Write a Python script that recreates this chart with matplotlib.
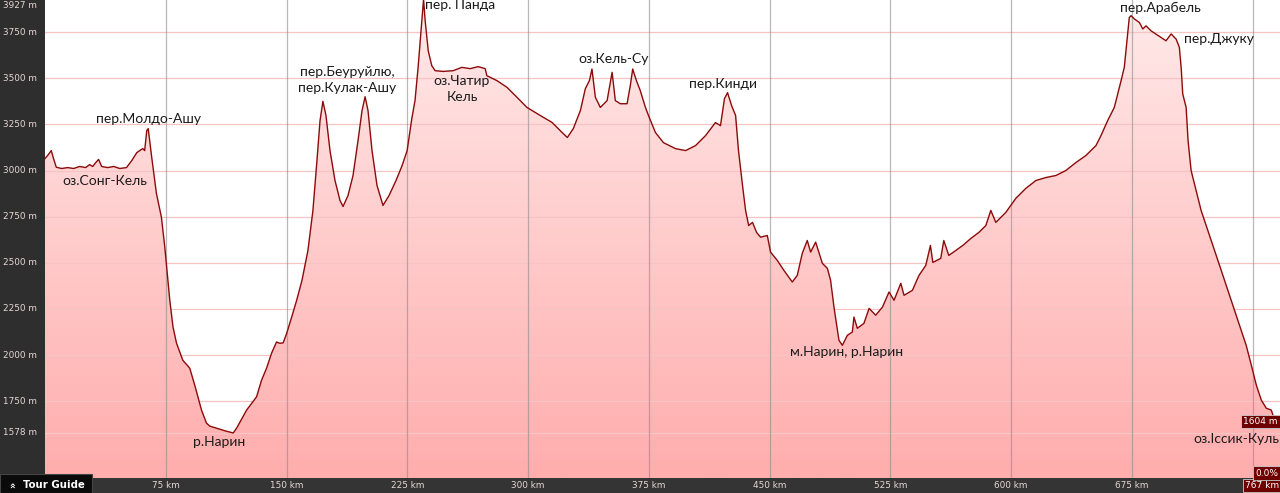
"""
Elevation profile: Song-Kol -> Issyk-Kul route.
"""

import numpy as np
import matplotlib

matplotlib.use("Agg")

import matplotlib.pyplot as plt
from matplotlib.colors import LinearSegmentedColormap
from matplotlib.patches import Rectangle, Polygon
from matplotlib.transforms import blended_transform_factory

# distance along route, km
dist_km = [
    0.0, 1.6, 3.9, 5.3, 7.0, 10.3, 14.1, 17.8, 21.5, 25.2, 27.7, 29.6, 31.5, 33.3, 35.2,
    38.9, 42.7, 46.4, 50.6, 53.9, 57.0, 58.8, 60.7, 61.9, 63.2, 64.1, 65.0, 66.3, 69.2,
    72.3, 74.4, 77.5, 79.5, 81.7, 85.6, 89.9, 93.0, 97.2, 100.3, 102.4, 106.5, 111.7,
    116.9, 119.0, 125.2, 131.4, 134.5, 137.6, 140.7, 143.8, 145.9, 147.9, 150.1, 153.2,
    156.3, 159.6, 163.3, 166.4, 168.9, 170.8, 172.6, 174.5, 177.0, 180.1, 183.2, 185.1,
    188.2, 191.3, 194.4, 196.9, 198.8, 200.6, 203.1, 206.2, 209.9, 213.7, 218.0, 221.8,
    224.9, 227.8, 229.8, 231.7, 234.0, 235.1, 236.1, 238.0, 240.2, 242.3, 247.3, 253.5,
    258.9, 264.1, 269.0, 273.4, 274.4, 280.7, 286.9, 293.1, 299.3, 307.6, 315.0, 320.0,
    324.4, 328.1, 332.5, 335.6, 338.1, 339.7, 341.8, 344.9, 349.1, 352.2, 354.2, 357.3,
    361.5, 363.5, 365.0, 367.3, 369.7, 372.9, 374.8, 379.1, 384.1, 391.5, 397.8, 404.0,
    410.2, 416.4, 419.5, 422.0, 423.9, 426.4, 428.9, 430.7, 433.2, 435.1, 437.0, 439.4,
    441.9, 444.4, 448.6, 450.6, 454.8, 458.9, 464.1, 467.2, 470.3, 473.4, 475.5, 478.6,
    482.8, 485.9, 487.9, 490.0, 493.1, 495.2, 498.3, 501.4, 502.4, 504.5, 508.6, 511.8,
    515.9, 520.1, 524.2, 527.3, 531.5, 533.5, 538.7, 542.8, 547.0, 549.9, 551.4, 556.3,
    558.2, 561.3, 565.6, 570.0, 575.0, 580.0, 584.3, 587.4, 590.5, 596.7, 602.9, 609.1,
    615.4, 621.6, 627.8, 634.0, 640.2, 646.4, 652.7, 655.8, 660.0, 664.1, 668.3, 670.3,
    672.4, 673.4, 674.5, 676.6, 679.7, 681.8, 683.8, 686.9, 693.1, 696.2, 699.4, 702.5,
    704.5, 705.6, 706.6, 708.7, 709.9, 711.8, 714.9, 718.0, 724.3, 730.5, 736.7, 742.9,
    746.0, 749.2, 752.3, 755.4, 758.5, 761.6, 764.7, 767.0,
]

# elevation, m
elev_m = [
    3065, 3081, 3108, 3065, 3018, 3011, 3016, 3011, 3022, 3016, 3032, 3022, 3043, 3060, 3022,
    3016, 3022, 3011, 3016, 3054, 3097, 3108, 3119, 3108, 3216, 3227, 3162, 3070, 2876,
    2747, 2585, 2297, 2152, 2064, 1972, 1929, 1837, 1702, 1631, 1615, 1604, 1590,
    1578, 1604, 1702, 1774, 1864, 1929, 2010, 2071, 2064, 2066, 2118, 2206,
    2297, 2405, 2567, 2784, 3054, 3270, 3375, 3298, 3108, 2946, 2838, 2805,
    2865, 2973, 3162, 3325, 3400, 3325, 3108, 2919, 2811, 2865, 2946, 3027,
    3108, 3281, 3379, 3557, 3812, 3927, 3812, 3649, 3568, 3541, 3537, 3541,
    3559, 3552, 3563, 3552, 3514, 3487, 3451, 3397, 3342, 3298, 3260, 3216,
    3179, 3227, 3325, 3444, 3487, 3550, 3397, 3342, 3379, 3532, 3379, 3362,
    3362, 3460, 3550, 3487, 3433, 3342, 3298, 3206, 3151, 3119, 3108, 3135,
    3189, 3260, 3243, 3390, 3422, 3352, 3298, 3108, 2919, 2784, 2702, 2719,
    2665, 2639, 2648, 2558, 2513, 2459, 2396, 2432, 2551, 2621, 2558, 2612,
    2497, 2470, 2405, 2260, 2080, 2053, 2107, 2125, 2206, 2145, 2172, 2253,
    2216, 2260, 2342, 2297, 2389, 2324, 2351, 2432, 2486, 2594, 2502, 2524,
    2621, 2540, 2567, 2594, 2632, 2665, 2702, 2784, 2719, 2773, 2849, 2903,
    2946, 2962, 2973, 3000, 3043, 3081, 3135, 3189, 3271, 3342, 3487, 3559,
    3740, 3829, 3839, 3821, 3802, 3767, 3784, 3757, 3721, 3703, 3740, 3712,
    3667, 3559, 3415, 3342, 3162, 3000, 2892, 2784, 2621, 2459, 2297, 2134,
    2053, 1945, 1837, 1756, 1712, 1702, 1620, 1604,
]

y_ticks = [3750, 3500, 3250, 3000, 2750, 2500, 2250, 2000, 1750]
x_ticks = [75, 150, 225, 300, 375, 450, 525, 600, 675, 750]

place_names = [
    ("оз.Сонг-Кель", 37, 2945, "center"),
    ("пер.Молдо-Ашу", 64, 3278, "center"),
    ("р.Нарин", 108, 1530, "center"),
    ("пер.Беуруйлю,\nпер.Кулак-Ашу", 187.5, 3490, "center"),
    ("пер. Панда", 258, 3897, "center"),
    ("оз.Чатир\nКель", 259, 3441, "center"),
    ("оз.Кель-Су", 353, 3605, "center"),
    ("пер.Кинди", 421, 3468, "center"),
    ("м.Нарин, р.Нарин", 498, 2015, "center"),
    ("пер.Арабель", 693, 3880, "center"),
    ("пер.Джуку", 729, 3710, "center"),
    ("оз.Іссик-Куль", 766.5, 1545, "right"),
]

W, H = 1280, 493
LEFT, BOTTOM = 45, 15
Y_LO, Y_HI = 1334, 3924

fig = plt.figure(figsize=(W / 100, H / 100), dpi=100)
fig.patch.set_facecolor("white")
ax = fig.add_axes([LEFT / W, BOTTOM / H, (W - LEFT) / W, (H - BOTTOM) / H])
ax.set_xlim(0, 767)
ax.set_ylim(Y_LO, Y_HI)
ax.set_axis_off()

x = np.array(dist_km)
y = np.array(elev_m)

# gradient fill under the profile
cmap = LinearSegmentedColormap.from_list("pinks", ["#ffadad", "#ffeaea"])
grad = np.linspace(0, 1, 256).reshape(-1, 1)
img = ax.imshow(grad, aspect="auto", cmap=cmap, origin="lower",
                extent=[0, 767, Y_LO, Y_HI], zorder=1)
poly = Polygon(np.column_stack([np.r_[x, x[-1], x[0]], np.r_[y, Y_LO, Y_LO]]),
               closed=True, facecolor="none", edgecolor="none")
ax.add_patch(poly)
img.set_clip_path(poly)

for v in y_ticks + [min(elev_m)]:
    ax.axhline(v, color="#f7c4c4", linewidth=0.9, zorder=2)
for k in x_ticks:
    ax.axvline(k, color="#8a8a8a", linewidth=0.9, alpha=0.6, zorder=2)

ax.plot(x, y, color="#8b0a0a", linewidth=1.0, zorder=3)

for label, kx, ky, align in place_names:
    ax.text(kx, ky, label, ha=align, va="center", fontsize=10,
            family="Lato", color="#1a1a1a", linespacing=1.35, zorder=5)

# left panel and bottom bar
fig.patches.append(Rectangle((0, BOTTOM / H), LEFT / W, 1, transform=fig.transFigure,
                             facecolor="#2e2e2e", edgecolor="none", zorder=0))
fig.patches.append(Rectangle((0, 0), 1, BOTTOM / H, transform=fig.transFigure,
                             facecolor="#343434", edgecolor="none", zorder=0))

ytrans = blended_transform_factory(fig.transFigure, ax.transData)
tick_style = dict(fontsize=6.4, color="#e6d6d6", family="DejaVu Sans")
for v in y_ticks + [min(elev_m)]:
    fig.text(3 / W, v, f"{v} m", transform=ytrans, ha="left", va="center", **tick_style)
fig.text(3 / W, 1 - 5 / H, f"{max(elev_m)} m", ha="left", va="center", **tick_style)

xtrans = blended_transform_factory(ax.transData, fig.transFigure)
for k in x_ticks[:-1]:
    fig.text(k, 7.5 / H, f"{k} km", transform=xtrans, ha="center", va="center", **tick_style)

box = dict(boxstyle="square,pad=0.25", facecolor="#6e0000", edgecolor="#cccccc", linewidth=0.6)
fig.text(1 - 1 / W, 7.5 / H, f"{dist_km[-1]:.0f} km", ha="right", va="center",
         fontsize=6.5, color="white", bbox=box)
fig.text(1 - 2 / W, 20 / H, "0.0%", ha="right", va="center",
         fontsize=6.5, color="white", bbox=box)
ax.text(765.5, elev_m[-1] + 35, f"{elev_m[-1]} m", ha="right", va="center",
        fontsize=6.5, color="white", bbox=box, zorder=6)

# Tour Guide button
fig.patches.append(Rectangle((0, 0), 92 / W, 19 / H, transform=fig.transFigure,
                             facecolor="#0a0a0a", edgecolor="#444444", linewidth=0.8,
                             zorder=1))
fig.text(13 / W, 8 / H, "»", rotation=90, ha="center", va="center",
         fontsize=7, color="white", fontweight="bold")
fig.text(23 / W, 8 / H, "Tour Guide", ha="left", va="center",
         fontsize=7.3, color="white", fontweight="bold")

fig.savefig("out.png", dpi=100)
